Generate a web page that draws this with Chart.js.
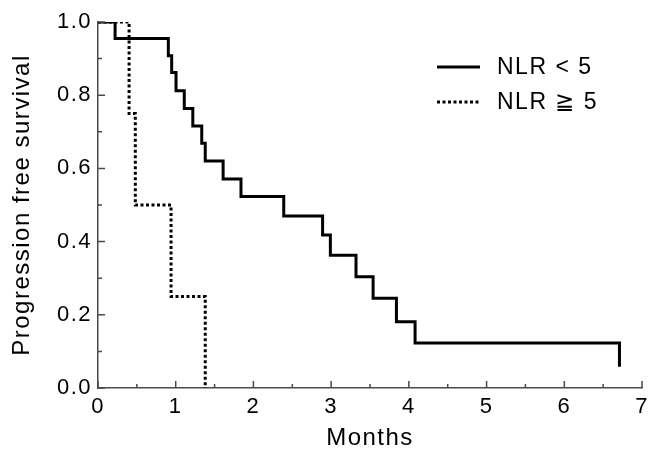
<!DOCTYPE html>
<html>
<head>
<meta charset="utf-8">
<script src="https://cdn.jsdelivr.net/npm/chart.js@4/dist/chart.umd.min.js"></script>
<style>
  html, body { margin: 0; padding: 0; background: #fff; }
  #wrap { width: 657px; height: 466px; }
</style>
</head>
<body>
<div id="wrap"><canvas id="myChart" width="657" height="466"></canvas></div>
<script>
// Kaplan-Meier steps
const lowTimes = [0, 0.22, 0.905, 0.948, 1.004, 1.11, 1.22, 1.335, 1.38, 1.61, 1.84, 2.39, 2.89, 2.99, 3.32, 3.54, 3.84, 4.08, 6.71];
const lowSurv  = [1.0, 0.955, 0.908, 0.862, 0.812, 0.764, 0.716, 0.669, 0.620, 0.571, 0.523, 0.470, 0.418, 0.363, 0.304, 0.245, 0.181, 0.123, 0.058];

const highTimes = [0, 0.40, 0.48, 0.94, 1.38];
const highSurv  = [1.0, 0.75, 0.50, 0.25, 0.0];

const seriesLabels = ['NLR < 5', 'NLR \u2267 5'];
const xTicks = [0, 1, 2, 3, 4, 5, 6, 7];
const yTicks = [0, 0.2, 0.4, 0.6, 0.8, 1.0];

const toPts = (xs, ys) => xs.map((x, i) => ({ x: x, y: ys[i] }));

const FONT = 'Liberation Sans, Arial, Helvetica, sans-serif';
const AXIS = '#4a4a4a';

// canvas letter spacing, the original text is a bit wide
const spacing = {
  id: 'spacing',
  beforeUpdate(chart) { chart.ctx.letterSpacing = '1.5px'; },
  beforeDraw(chart) { chart.ctx.letterSpacing = '1.5px'; }
};

// ticks pointing into the plot, with minor ticks between
const innerTicks = {
  id: 'innerTicks',
  afterDraw(chart) {
    const ctx = chart.ctx;
    const xs = chart.scales.x, ys = chart.scales.y;
    const a = chart.chartArea;
    ctx.save();
    ctx.strokeStyle = AXIS;
    ctx.lineWidth = 1.5;
    ctx.beginPath();
    for (let v = 0; v <= 7.001; v += 0.5) {
      const px = xs.getPixelForValue(v);
      const len = Math.abs(v - Math.round(v)) < 0.01 ? 7 : 4;
      ctx.moveTo(px, a.bottom);
      ctx.lineTo(px, a.bottom - len);
    }
    for (let v = 0; v <= 1.001; v += 0.1) {
      const py = ys.getPixelForValue(v);
      const major = Math.abs(v * 5 - Math.round(v * 5)) < 0.01;
      ctx.moveTo(a.left, py);
      ctx.lineTo(a.left + (major ? 7 : 4), py);
    }
    ctx.stroke();
    ctx.restore();
  }
};

// legend top right
const keyBox = {
  id: 'keyBox',
  afterDraw(chart) {
    const ctx = chart.ctx;
    const rows = [67, 102];
    ctx.save();
    ctx.letterSpacing = '1.5px';
    chart.data.datasets.forEach((ds, i) => {
      const y = rows[i];
      ctx.strokeStyle = '#000';
      ctx.lineWidth = 3;
      ctx.setLineDash(ds.borderDash || []);
      ctx.beginPath();
      ctx.moveTo(437, y);
      ctx.lineTo(480, y);
      ctx.stroke();
      ctx.setLineDash([]);
      ctx.fillStyle = '#000';
      ctx.font = '23px ' + FONT;
      ctx.textBaseline = 'middle';
      ctx.fillText(ds.label, 497, y + 1);
    });
    ctx.restore();
  }
};

const data = {
  datasets: [
    {
      label: seriesLabels[0],
      data: toPts(lowTimes, lowSurv),
      borderColor: '#000',
      borderWidth: 3,
      stepped: 'before',
      pointRadius: 0,
      fill: false
    },
    {
      label: seriesLabels[1],
      data: toPts(highTimes, highSurv),
      borderColor: '#000',
      borderWidth: 3,
      borderDash: [3, 2.5],
      stepped: 'before',
      pointRadius: 0,
      fill: false
    }
  ]
};

const config = {
  type: 'line',
  data,
  options: {
    responsive: false,
    animation: false,
    layout: { padding: { top: 22, right: 15, left: 0, bottom: 0 } },
    plugins: {
      legend: { display: false },
      tooltip: { enabled: false }
    },
    scales: {
      x: {
        type: 'linear',
        min: 0,
        max: 7,
        afterFit: s => { s.height = 78; },
        afterBuildTicks: s => { s.ticks = xTicks.map(v => ({ value: v })); },
        ticks: {
          color: '#000',
          padding: 6,
          maxRotation: 0,
          font: { family: FONT, size: 22 }
        },
        grid: { display: false, drawTicks: false },
        border: { display: true, color: AXIS, width: 1.5 },
        title: {
          display: true,
          text: 'Months',
          color: '#000',
          font: { family: FONT, size: 24 },
          padding: { top: 0, bottom: 13 }
        }
      },
      y: {
        min: 0,
        max: 1,
        afterFit: s => { s.width = 98; },
        afterBuildTicks: s => { s.ticks = yTicks.map(v => ({ value: v })); },
        ticks: {
          color: '#000',
          padding: 6,
          font: { family: FONT, size: 22 },
          callback: v => Number(v).toFixed(1)
        },
        grid: { display: false, drawTicks: false },
        border: { display: true, color: AXIS, width: 1.5 },
        title: {
          display: true,
          text: 'Progression free survival',
          color: '#000',
          font: { family: FONT, size: 24 },
          padding: { top: 8, bottom: 0 }
        }
      }
    }
  },
  plugins: [spacing, innerTicks, keyBox]
};

const myChart = new Chart(document.getElementById('myChart'), config);
</script>
</body>
</html>
